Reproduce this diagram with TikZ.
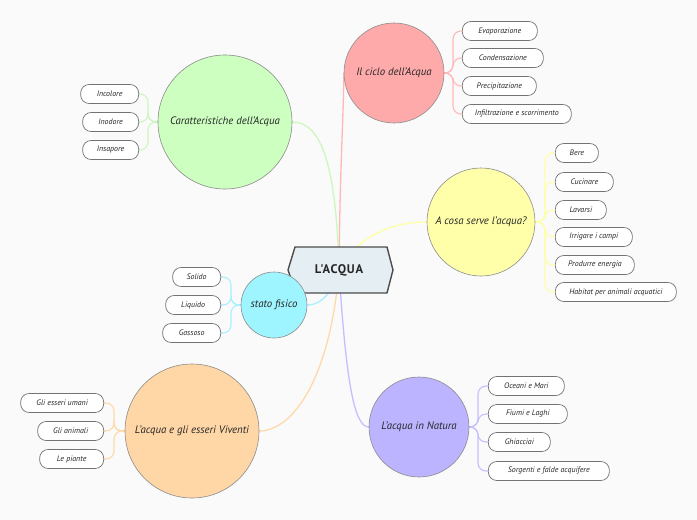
\documentclass[tikz,border=0pt]{standalone}
\usepackage{fontspec}
\setmainfont{PT Sans}
\definecolor{bgc}{HTML}{FAFAFA}
\definecolor{hexfill}{HTML}{E4EEF3}
\definecolor{pinkf}{HTML}{FFAAAA}
\definecolor{pinkl}{HTML}{FFB8B8}
\definecolor{greenf}{HTML}{CCFFC0}
\definecolor{greenl}{HTML}{CCF7BE}
\definecolor{yellowf}{HTML}{FFFFAA}
\definecolor{yellowl}{HTML}{FFFFA6}
\definecolor{cyanf}{HTML}{9FF5FF}
\definecolor{cyanl}{HTML}{A8F0FF}
\definecolor{orangef}{HTML}{FFD6A6}
\definecolor{orangel}{HTML}{FFD9AA}
\definecolor{purplef}{HTML}{BCB4FF}
\definecolor{purplel}{HTML}{C6BFFF}
\newfontfamily\rootfont[LetterSpace=6]{PT Sans}
\pgfdeclarelayer{bglayer}
\pgfdeclarelayer{lines}
\pgfsetlayers{bglayer,lines,main}
\begin{document}
\begin{tikzpicture}[x=1pt,y=-1pt,
  circ/.style={circle, draw=black!45, line width=0.6pt, inner sep=0pt},
  ctext/.style={font=\itshape\fontsize{10.8}{12}\selectfont, text=black!85},
  box/.style={draw=black!55, line width=0.7pt, fill=white, rounded corners=8.5pt,
    minimum height=19pt, inner sep=0pt, font=\itshape\fontsize{7.9}{9}\selectfont, text=black!85},
  mainline/.style={line width=1.3pt},
  branch/.style={line width=1.1pt, rounded corners=8pt}]
\begin{pgfonlayer}{bglayer}
\fill[bgc] (0,0) rectangle (697,520);
\end{pgfonlayer}
% central node
\draw[hexfill, fill=hexfill] (295,247) -- (387,247) -- (393,270) -- (387,293) -- (296,293) -- (288,270) -- cycle;
\draw[black!70, line width=1.4pt, line join=round] (295,247) -- (387,247) -- (393,270) -- (387,293) -- (296,293) -- (288,270) -- cycle;
\node[font=\rootfont\bfseries\fontsize{12.5}{14}\selectfont, text=black!85] (root) at (339,270) {L'ACQUA};

% circles
\node[circ, fill=pinkf, minimum size=100pt] (cyc) at (394,73) {};
\node[ctext] (cyct) at (cyc) {Il ciclo dell'Acqua};
\node[circ, fill=greenf, minimum size=134pt] (car) at (225,122) {};
\node[ctext] (cart) at (car) {Caratteristiche dell'Acqua};
\node[circ, fill=yellowf, minimum size=108pt] (use) at (481,222) {};
\node[ctext] (uset) at (use) {A cosa serve l'acqua?};
\node[circ, fill=cyanf, minimum size=66pt] (sta) at (274,305) {};
\node[ctext] (stat) at (sta) {stato fisico};
\node[circ, fill=orangef, minimum size=134pt] (viv) at (192,431) {};
\node[ctext] (vivt) at (viv) {L'acqua e gli esseri Viventi};
\node[circ, fill=purplef, minimum size=100pt] (nat) at (419,427) {};
\node[ctext] (natt) at (nat) {L'acqua in Natura};

% children: ciclo
\node[box, anchor=west, minimum width=75pt] (c1) at (462,31) {Evaporazione};
\node[box, anchor=west, minimum width=81pt] (c2) at (462,58) {Condensazione};
\node[box, anchor=west, minimum width=74pt] (c3) at (462,86) {Precipitazione};
\node[box, anchor=west, minimum width=109pt] (c4) at (462,114) {Infiltrazione e scorrimento};
% children: caratteristiche
\node[box, anchor=east, minimum width=58pt] (g1) at (139,94) {Incolore};
\node[box, anchor=east, minimum width=56pt] (g2) at (139,122) {Inodore};
\node[box, anchor=east, minimum width=56pt] (g3) at (139,150) {Insapore};
% children: uso
\node[box, anchor=west, minimum width=43pt] (u1) at (555,153) {Bere};
\node[box, anchor=west, minimum width=58pt] (u2) at (555,182) {Cucinare};
\node[box, anchor=west, minimum width=51pt] (u3) at (555,210) {Lavarsi};
\node[box, anchor=west, minimum width=77pt] (u4) at (555,237) {Irrigare i campi};
\node[box, anchor=west, minimum width=79pt] (u5) at (555,265) {Produrre energia};
\node[box, anchor=west, minimum width=121pt] (u6) at (555,292) {Habitat per animali acquatici};
% children: stato
\node[box, anchor=east, minimum width=48pt] (s1) at (221,277) {Solido};
\node[box, anchor=east, minimum width=55pt] (s2) at (221,305) {Liquido};
\node[box, anchor=east, minimum width=58pt] (s3) at (221,333) {Gassoso};
% children: viventi
\node[box, anchor=east, minimum width=83pt] (v1) at (104,403) {Gli esseri umani};
\node[box, anchor=east, minimum width=66pt] (v2) at (104,431) {Gli animali};
\node[box, anchor=east, minimum width=64pt] (v3) at (104,459) {Le piante};
% children: natura
\node[box, anchor=west, minimum width=76pt] (n1) at (488,386) {Oceani e Mari};
\node[box, anchor=west, minimum width=79pt] (n2) at (488,414) {Fiumi e Laghi};
\node[box, anchor=west, minimum width=62pt] (n3) at (488,442) {Ghiacciai};
\node[box, anchor=west, minimum width=121pt] (n4) at (488,471) {Sorgenti e falde acquifere};

\begin{pgfonlayer}{lines}
% main connectors
\draw[mainline, pinkl] (root.center) .. controls (340,160) and (344,110) .. (cyc.west);
\draw[mainline, greenl] (root.center) .. controls (336,160) and (320,122) .. (car.east);
\draw[mainline, yellowl] (root.center) .. controls (362,230) and (400,222) .. (use.west);
\draw[mainline, cyanl] (root.center) .. controls (330,300) and (316,305) .. (sta.east);
\draw[mainline, orangel] (root.center) .. controls (330,380) and (292,431) .. (viv.east);
\draw[mainline, purplel] (root.center) .. controls (346,380) and (354,427) .. (nat.west);
% branches
\foreach \c in {c1,c2,c3,c4} \draw[branch, pinkl] (cyc.east) -- (453,73) |- (\c.west);
\foreach \c in {g1,g2,g3} \draw[branch, greenl] (car.west) -- (148,122) |- (\c.east);
\foreach \c in {u1,u2,u3,u4,u5,u6} \draw[branch, yellowl] (use.east) -- (545,222) |- (\c.west);
\foreach \c in {s1,s2,s3} \draw[branch, cyanl] (sta.west) -- (231,305) |- (\c.east);
\foreach \c in {v1,v2,v3} \draw[branch, orangel] (viv.west) -- (114,431) |- (\c.east);
\foreach \c in {n1,n2,n3,n4} \draw[branch, purplel] (nat.east) -- (478,427) |- (\c.west);
\end{pgfonlayer}
\end{tikzpicture}
\end{document}
